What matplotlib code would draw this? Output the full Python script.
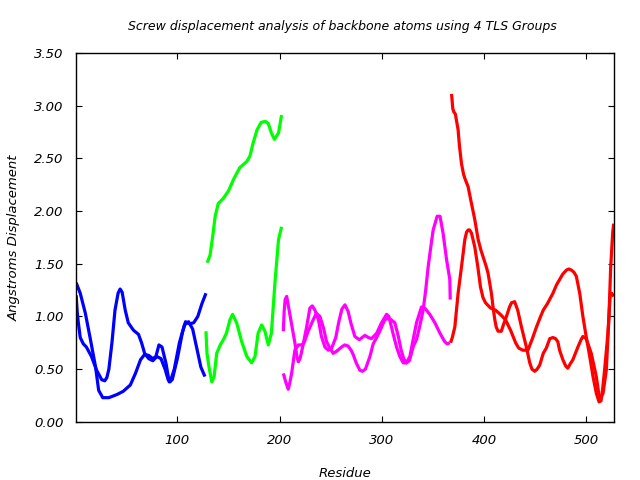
import matplotlib
matplotlib.use('Agg')
import matplotlib.pyplot as plt
from matplotlib.ticker import FormatStrFormatter

# TLS group 1 (blue), two screw components
blue_a_res = [1, 5, 10, 15, 20, 23, 27, 33, 41, 47, 54, 59, 64, 68, 72, 76, 79, 82, 85, 89,
              92, 95, 100, 105, 108, 112, 116, 120, 124, 128]
blue_a_val = [1.32, 1.22, 1.03, 0.78, 0.52, 0.30, 0.23, 0.23, 0.26, 0.29, 0.35, 0.46, 0.59, 0.64,
              0.63, 0.60, 0.62, 0.73, 0.71, 0.55, 0.38, 0.40, 0.60, 0.85, 0.95, 0.93, 0.94, 1.00,
              1.12, 1.22]
blue_b_res = [1, 2, 3, 5, 8, 11, 16, 21, 26, 29, 31, 33, 36, 39, 42, 44, 46, 49, 52, 57, 62, 65,
              68, 72, 76, 80, 84, 88, 91, 93, 97, 102, 107, 111, 115, 119, 123, 127]
blue_b_val = [1.20, 1.05, 0.95, 0.80, 0.74, 0.71, 0.62, 0.49, 0.40, 0.39, 0.42, 0.50, 0.75, 1.06,
              1.22, 1.26, 1.23, 1.06, 0.94, 0.87, 0.83, 0.75, 0.65, 0.60, 0.58, 0.62, 0.60, 0.50,
              0.40, 0.38, 0.50, 0.75, 0.92, 0.95, 0.88, 0.70, 0.52, 0.43]

# TLS group 2 (green)
green_a_res = [129, 130, 132, 135, 137, 140, 145, 150, 155, 161, 168, 171, 174, 178, 182, 186,
               189, 192, 195, 199, 202]
green_a_val = [1.51, 1.53, 1.58, 1.79, 1.95, 2.07, 2.12, 2.19, 2.30, 2.41, 2.47, 2.52, 2.64, 2.77,
               2.84, 2.85, 2.83, 2.74, 2.68, 2.74, 2.91]
green_b_res = [128, 129, 131, 133.7, 136, 138.5, 142, 145, 148, 151.5, 154, 158, 163, 168, 172.7,
               176, 179, 182.5, 185.7, 189, 192, 195.5, 199, 202]
green_b_val = [0.86, 0.65, 0.52, 0.38, 0.43, 0.65, 0.73, 0.78, 0.84, 0.97, 1.02, 0.94, 0.76, 0.62,
               0.56, 0.62, 0.84, 0.92, 0.86, 0.73, 0.84, 1.32, 1.73, 1.85]

# TLS group 3 (magenta)
mag_a_res = [203.7, 204.5, 205.5, 207, 209, 211, 215, 217, 218.4, 220, 221, 223, 226.5, 229.7, 232,
             234.6, 238, 241, 244.4, 247.7, 251, 255, 258, 261, 264, 267, 270, 273.7, 278, 283.5,
             287, 290, 295, 299.8, 304.7, 307, 311, 314.5, 317.7, 321, 324, 327.5, 330.7, 334,
             338.9, 342, 347, 352, 357, 361.7, 364, 366.6]
mag_a_val = [0.86, 1.05, 1.16, 1.19, 1.08, 0.97, 0.75, 0.62, 0.57, 0.60, 0.64, 0.73, 0.90, 1.08,
             1.10, 1.06, 0.97, 0.81, 0.71, 0.68, 0.70, 0.80, 0.95, 1.07, 1.11, 1.05, 0.93, 0.81,
             0.78, 0.82, 0.80, 0.79, 0.84, 0.94, 1.02, 1.00, 0.84, 0.71, 0.62, 0.56, 0.56, 0.62,
             0.78, 0.94, 1.09, 1.08, 1.02, 0.94, 0.84, 0.76, 0.74, 0.75]
mag_b_res = [203.7, 206, 208.5, 210, 211.8, 215, 218.4, 221.5, 224, 228, 233, 236, 239.5, 243, 246,
             249.3, 252.5, 255.8, 260.7, 263.7, 267, 270, 272, 275, 278.6, 281, 284, 288.4, 291.6,
             295, 298, 303, 306, 309, 312.8, 316, 319, 321.5, 324, 327, 331, 334, 337, 340.5, 343,
             345.4, 348, 350.3, 354.2, 357, 360, 363.4, 366.6, 367]
mag_b_val = [0.46, 0.38, 0.31, 0.37, 0.46, 0.68, 0.73, 0.73, 0.75, 0.86, 0.97, 1.03, 1.00, 0.89,
             0.76, 0.70, 0.65, 0.67, 0.71, 0.73, 0.72, 0.68, 0.64, 0.56, 0.49, 0.48, 0.50, 0.62,
             0.74, 0.80, 0.86, 0.97, 0.98, 0.97, 0.94, 0.82, 0.68, 0.60, 0.56, 0.58, 0.72, 0.78,
             0.90, 1.06, 1.25, 1.47, 1.66, 1.82, 1.95, 1.95, 1.79, 1.54, 1.35, 1.16]

# TLS group 4 (red)
red_a_res = [368.3, 369.5, 370.5, 372, 374.7, 376, 378, 380, 381.3, 384.5, 387.8, 391, 394.3, 397,
             399, 402, 404, 407.3, 409, 410.6, 412, 413.8, 417, 419, 422, 425, 427, 430, 433,
             436.7, 441.5, 444.8, 447, 449.7, 452, 454.6, 458, 461, 464.4, 467.5, 470, 472.3, 474,
             477.2, 480, 482, 485, 487, 491.9, 495, 496.8, 500, 505, 509.9, 513.2, 516.5, 519.7,
             522.3, 524, 526, 527]
red_a_val = [3.11, 2.97, 2.94, 2.92, 2.77, 2.62, 2.45, 2.35, 2.31, 2.23, 2.07, 1.92, 1.73, 1.63,
             1.57, 1.48, 1.41, 1.22, 1.08, 0.97, 0.90, 0.86, 0.86, 0.92, 1.00, 1.09, 1.13, 1.14,
             1.06, 0.90, 0.71, 0.56, 0.50, 0.48, 0.50, 0.54, 0.65, 0.70, 0.79, 0.80, 0.79, 0.76,
             0.68, 0.59, 0.53, 0.51, 0.56, 0.59, 0.71, 0.78, 0.81, 0.79, 0.65, 0.43, 0.21, 0.27,
             0.49, 1.00, 1.47, 1.80, 1.88]
red_b_res = [367.3, 369, 371.5, 373, 374.7, 378, 381.3, 383, 384.5, 386, 387.8, 391, 394, 396.6,
             399, 401.5, 406.4, 411.3, 416, 421, 426, 431, 434, 438, 443, 447, 451.4, 455, 458,
             462, 467.5, 471, 474, 477, 480.7, 483, 485.5, 488, 490.4, 493.7, 496.8, 500, 503.5,
             506.7, 510, 512.6, 514.5, 516, 518, 521.3, 523.6, 525, 527]
red_b_val = [0.75, 0.80, 0.90, 1.05, 1.22, 1.47, 1.73, 1.80, 1.82, 1.82, 1.79, 1.66, 1.47, 1.28,
             1.18, 1.13, 1.08, 1.06, 1.02, 0.97, 0.87, 0.75, 0.70, 0.68, 0.68, 0.78, 0.90, 0.99,
             1.06, 1.12, 1.22, 1.30, 1.35, 1.40, 1.44, 1.45, 1.44, 1.42, 1.38, 1.22, 1.00, 0.81,
             0.62, 0.43, 0.27, 0.19, 0.20, 0.30, 0.49, 0.84, 1.22, 1.22, 1.19]

x_ticks = [100, 200, 300, 400, 500]
y_ticks = [0.0, 0.5, 1.0, 1.5, 2.0, 2.5, 3.0, 3.5]

fig = plt.figure(figsize=(6.4, 4.8), dpi=100)
ax = fig.add_axes([0.119, 0.121, 0.840, 0.769])

series = [
    (blue_a_res, blue_a_val, '#0000ff'), (blue_b_res, blue_b_val, '#0000ff'),
    (green_a_res, green_a_val, '#00ff00'), (green_b_res, green_b_val, '#00ff00'),
    (mag_a_res, mag_a_val, '#ff00ff'), (mag_b_res, mag_b_val, '#ff00ff'),
    (red_a_res, red_a_val, '#ff0000'), (red_b_res, red_b_val, '#ff0000'),
]
for res, val, col in series:
    ax.plot(res, val, color=col, linewidth=2.3, solid_joinstyle='round', solid_capstyle='butt')

ax.set_xlim(1, 527)
ax.set_ylim(0, 3.5)
ax.set_xticks(x_ticks)
ax.set_yticks(y_ticks)
ax.yaxis.set_major_formatter(FormatStrFormatter('%.2f'))
ax.tick_params(direction='in', length=4.5, width=0.8, top=True, right=True,
               labelsize=9.5, pad=9)
for lab in ax.get_xticklabels() + ax.get_yticklabels():
    lab.set_fontstyle('italic')
for sp in ax.spines.values():
    sp.set_linewidth(1.0)

fig.text(0.535, 0.944, 'Screw displacement analysis of backbone atoms using 4 TLS Groups',
         ha='center', va='center', fontsize=9, style='italic')
ax.set_xlabel('Residue', fontsize=9.5, style='italic', labelpad=14)
ax.set_ylabel('Angstroms Displacement', fontsize=9.5, style='italic', labelpad=10)

fig.savefig('out.png', dpi=100)
